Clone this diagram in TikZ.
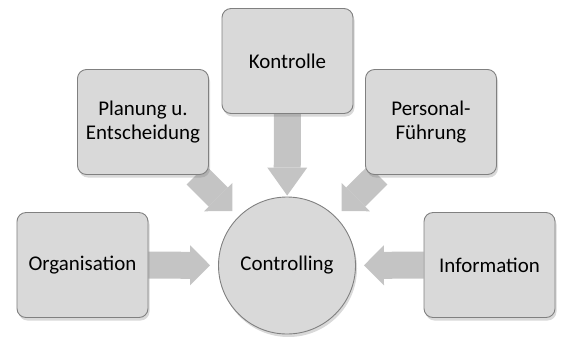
\documentclass[tikz,border=0pt]{standalone}
\usepackage{fontspec}
\setmainfont{Carlito}
\usetikzlibrary{arrows.meta,shadows,backgrounds}
\definecolor{boxfill}{RGB}{217,217,217}
\definecolor{boxline}{RGB}{128,128,128}
\definecolor{flowgray}{RGB}{196,196,196}
\tikzstyle{every picture}=[x=1bp, y=-1bp, font=\fontsize{21}{25}\selectfont]
\tikzstyle{area}=[draw=boxline, fill=boxfill, line width=0.9pt, rounded corners=9bp,%
	minimum width=131bp, minimum height=105bp, align=center, inner sep=0pt,%
	drop shadow={shadow xshift=1.5bp, shadow yshift=-3bp, opacity=0.3}]
\tikzstyle{hub}=[circle, draw=boxline, fill=boxfill, line width=0.9pt, minimum size=137bp,%
	inner sep=0pt, drop shadow={shadow xshift=1.5bp, shadow yshift=-3bp, opacity=0.3}]
\tikzstyle{flow}=[draw=flowgray, line width=27bp, shorten >=8bp,%
	-{Triangle[width=40bp, length=20bp, line width=0pt]}]

\begin{document}
\begin{tikzpicture}
	\useasboundingbox (0,0) rectangle (563,336);
	\node[hub] (ctl) at (287,265.5) {Controlling};
	\node[area] (kon) at (287.5,61) {Kontrolle};
	\node[area] (pla) at (143,122) {Planung u.\\Entscheidung};
	\node[area] (per) at (431,122) {Personal-\\Führung};
	\node[area] (org) at (82.5,265) {Organisation};
	\node[area] (inf) at (489.5,265) {Information};
	\begin{pgfonlayer}{background}
		\foreach \x in {pla,per,org,inf} {
			\draw[flow] (\x) -- (ctl);
		}
		\draw[flow, shorten >=1bp, -{Triangle[width=40bp, length=28bp, line width=0pt]}] (kon) -- (ctl);
	\end{pgfonlayer}
\end{tikzpicture}
\end{document}
